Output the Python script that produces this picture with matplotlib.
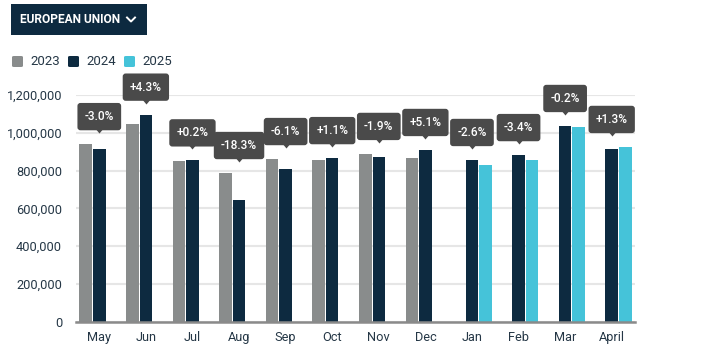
import numpy as np
import matplotlib
matplotlib.use("Agg")
import matplotlib.pyplot as plt
from matplotlib.patches import FancyBboxPatch, Rectangle
from matplotlib.lines import Line2D
from matplotlib.ticker import FuncFormatter
import matplotlib.transforms as mtransforms

plt.rcParams['font.family'] = ['Roboto', 'DejaVu Sans']

months = ["May", "Jun", "Jul", "Aug", "Sep", "Oct", "Nov", "Dec", "Jan", "Feb", "Mar", "April"]
nan = np.nan
v2023 = [940000, 1048000, 852000, 787000, 861000, 856000, 888000, 866000, nan, nan, nan, nan]
v2024 = [914000, 1096000, 854000, 646000, 808000, 866000, 872000, 909000, 856000, 882000, 1036000, 914000]
v2025 = [nan, nan, nan, nan, nan, nan, nan, nan, 830000, 854000, 1032000, 925000]
changes = ["-3.0%", "+4.3%", "+0.2%", "-18.3%", "-6.1%", "+1.1%", "-1.9%", "+5.1%",
           "-2.6%", "-3.4%", "-0.2%", "+1.3%"]
yticks = [0, 200000, 400000, 600000, 800000, 1000000, 1200000]
series_names = ["2023", "2024", "2025"]

C23, C24, C25 = "#898c8c", "#0d2a40", "#45c3d9"
TXT = "#253746"
LBL = "#4a4a4a"

W, H = 704, 359
fig = plt.figure(figsize=(W / 100, H / 100), dpi=100)
ax = fig.add_axes([76 / W, 1 - 321.7 / H, (635 - 76) / W, (321.7 - 95) / H])

x = np.arange(len(months))
slot = 0.29
bw = 0.27
for vals, off, col in [(v2023, -slot, C23), (v2024, 0, C24), (v2025, slot, C25)]:
    ax.bar(x + off, vals, width=bw, color=col, zorder=3)

ax.set_xlim(-0.5, len(months) - 0.5)
ax.set_ylim(0, 1200000)
ax.set_yticks(yticks)
ax.yaxis.set_major_formatter(FuncFormatter(lambda v, p: f"{int(v):,}"))
ax.set_xticks(x)
ax.set_xticklabels(months)
ax.tick_params(axis='both', length=0, colors=TXT, labelsize=9.2)
ax.tick_params(axis='y', pad=10)
ax.tick_params(axis='x', pad=7)
ax.grid(axis='y', color='#e6e6e6', linewidth=1.5, zorder=0)
for s in ["top", "right", "left"]:
    ax.spines[s].set_visible(False)
ax.spines["bottom"].set_color("#8a8a8a")
ax.spines["bottom"].set_linewidth(1.8)
ax.spines["bottom"].set_zorder(4)

PT = 72 / 100  # points per pixel
tri = [(-5, 3), (5, 3), (0, -3)]
for i, lab in enumerate(changes):
    top = np.nanmax([v2023[i], v2024[i], v2025[i]])
    tr = mtransforms.offset_copy(ax.transData, fig=fig, x=0, y=14 * PT, units='points')
    ax.plot([i], [top], marker=tri, markersize=10 * PT, color=LBL, transform=tr,
            clip_on=False, zorder=6, markeredgewidth=0)
    ax.annotate(lab, xy=(i, top), xytext=(0, 29 * PT), textcoords='offset points',
                ha='center', va='center_baseline', color='white', fontsize=8.6, fontweight='medium',
                annotation_clip=False, zorder=7,
                bbox=dict(boxstyle='round,pad=0.6,rounding_size=0.25', fc=LBL, ec='none'))

# header button
fig.patches.append(Rectangle((11 / W, 1 - 35 / H), (147 - 11) / W, (35 - 4) / H,
                             transform=fig.transFigure, fc="#0d2a40", ec='none', zorder=1))
fig.text(20 / W, 1 - 19.5 / H, "EUROPEAN UNION", color='white', fontsize=8.6,
         fontweight='bold', ha='left', va='center')
fig.lines.append(Line2D([127 / W, 131 / W, 135 / W], [1 - 17.5 / H, 1 - 21.5 / H, 1 - 17.5 / H],
                        transform=fig.transFigure, color='white', linewidth=1.4))

# legend
leg_x = [12, 68, 124]
for name, lx, col in zip(series_names, leg_x, [C23, C24, C25]):
    fig.patches.append(FancyBboxPatch((lx / W, 1 - 67 / H), 11 / W, 11 / H,
                                      boxstyle="round,pad=0,rounding_size=0.003",
                                      transform=fig.transFigure, fc=col, ec='none'))
    fig.text((lx + 18) / W, 1 - 61.5 / H, name, color=TXT, fontsize=9.5, ha='left', va='center')

fig.savefig("out.png", dpi=100)
